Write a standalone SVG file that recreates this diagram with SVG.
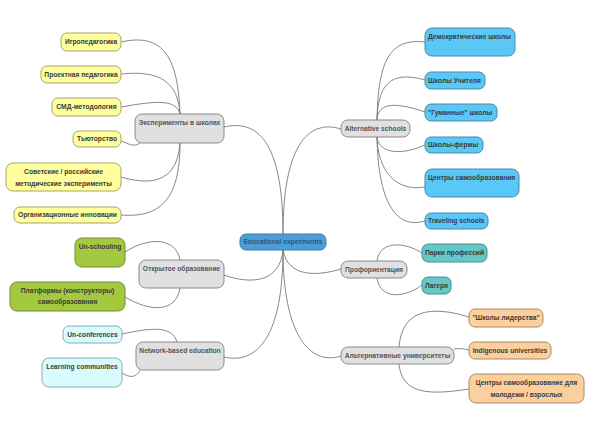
<svg xmlns="http://www.w3.org/2000/svg" width="590" height="443" viewBox="0 0 590 443">
<style>
text{font-family:"Liberation Sans",Arial,sans-serif;font-weight:bold;font-size:6.7px;fill:#3a3a3a}
.c path{fill:none;stroke:#7a7a7a;stroke-width:0.9}
rect{stroke-width:1}
.y rect{fill:#ffff9e;stroke:#a9a46a}
.b rect{fill:#5ac8f7;stroke:#4a88a8}
.g rect{fill:#a3c93f;stroke:#6f8e34}
.t rect{fill:#66c7c7;stroke:#4a8e8e}
.l rect{fill:#d9fbfd;stroke:#7fb0b6}
.o rect{fill:#fcd09e;stroke:#a88a64}
.m rect{fill:#e0e0e0;stroke:#8a8a8a}
.m text{fill:#555}
.ctr rect{fill:#4b9fd6;stroke:#3f7aa6}
.ctr text{fill:#2c587c}
</style>
<rect x="0" y="0" width="590" height="443" fill="#ffffff" stroke="none"/>
<g class="c" id="connectors">
<path d="M283,234 C283,150 262,118 224,127"/>
<path d="M283,234 C283,150 306,118 341,129"/>
<path d="M283,250 C280,282 252,285 224,275"/>
<path d="M283,250 C283,335 258,365 224,357"/>
<path d="M283,250 C288,278 318,276 341,269"/>
<path d="M283,250 C283,335 310,366 341,356"/>
<path d="M180,114 C178,60 165,32 121,42"/>
<path d="M180,114 C178,82 160,70 121,74"/>
<path d="M180,114 C176,100 160,100 121,107"/>
<path d="M140,143 C133,148 128,143 121,141"/>
<path d="M180,143 C178,170 165,190 121,177"/>
<path d="M180,143 C180,200 160,218 121,215"/>
<path d="M377,120 C378,60 390,38 425,42"/>
<path d="M377,120 C378,85 390,70 425,80"/>
<path d="M377,120 C378,105 390,100 425,112"/>
<path d="M377,137 C378,150 395,158 425,145"/>
<path d="M377,137 C378,170 395,192 425,187"/>
<path d="M377,137 C378,200 395,230 425,221"/>
<path d="M180,260 C176,238 150,236 125,252"/>
<path d="M180,288 C176,313 150,312 125,297"/>
<path d="M177,342 C172,325 150,328 122,334"/>
<path d="M140,370 C136,378 130,378 122,373"/>
<path d="M377,261 C380,240 405,242 422,253"/>
<path d="M377,278 C380,300 405,298 422,285"/>
<path d="M399,347 C402,310 430,305 469,317"/>
<path d="M454,349 C460,348 464,349 469,350"/>
<path d="M399,364 C402,395 430,395 469,389"/>
</g>
<g id="center" class="ctr"><rect x="240" y="234" width="86" height="16" rx="6"/><text x="283" y="244.3" text-anchor="middle">Educational experiments</text></g>
<g id="exp" class="m"><rect x="135" y="114" width="89" height="29" rx="7"/><text x="179.5" y="125.3" text-anchor="middle">Эксперименты в школах</text></g>
<g id="alt" class="m"><rect x="341" y="120" width="69" height="17" rx="7"/><text x="375.5" y="131.3" text-anchor="middle">Alternative schools</text></g>
<g id="open" class="m"><rect x="139" y="260" width="85" height="28" rx="7"/><text x="181.5" y="271.3" text-anchor="middle">Открытое образование</text></g>
<g id="net" class="m"><rect x="136" y="342" width="88" height="28" rx="7"/><text x="180" y="352.8" text-anchor="middle">Network-based education</text></g>
<g id="prof" class="m"><rect x="341" y="261" width="66" height="17" rx="7"/><text x="374" y="271.8" text-anchor="middle">Профориентация</text></g>
<g id="altuni" class="m"><rect x="341" y="347" width="113" height="17" rx="7"/><text x="397.5" y="358.3" text-anchor="middle">Альтернативные университеты</text></g>
<g id="n1" class="y"><rect x="61" y="33" width="60" height="18" rx="6"/><text x="91" y="44.3" text-anchor="middle">Игропедагогика</text></g>
<g id="n2" class="y"><rect x="41" y="66" width="80" height="17" rx="6"/><text x="81" y="76.8" text-anchor="middle">Проектная педагогика</text></g>
<g id="n3" class="y"><rect x="52" y="98" width="69" height="18" rx="6"/><text x="86.5" y="109.3" text-anchor="middle">СМД-методология</text></g>
<g id="n4" class="y"><rect x="73" y="131" width="48" height="16" rx="6"/><text x="97" y="141.3" text-anchor="middle">Тьюторство</text></g>
<g id="n5" class="y"><rect x="6" y="163" width="115" height="28" rx="7"/><text x="63.5" y="174" text-anchor="middle">Советские / российские</text><text x="63.5" y="185.5" text-anchor="middle">методические эксперименты</text></g>
<g id="n6" class="y"><rect x="14" y="207" width="107" height="16" rx="6"/><text x="67.5" y="217.3" text-anchor="middle">Организационные инновации</text></g>
<g id="b1" class="b"><rect x="425" y="28" width="90" height="28" rx="7"/><text x="428" y="39">Демократические школы</text></g>
<g id="b2" class="b"><rect x="425" y="72" width="60" height="17" rx="6"/><text x="428" y="82.8">Школы Учителя</text></g>
<g id="b3" class="b"><rect x="425" y="104" width="72" height="17" rx="6"/><text x="428" y="114.8">"Гуманные" школы</text></g>
<g id="b4" class="b"><rect x="425" y="137" width="58" height="16" rx="6"/><text x="428" y="147.3">Школы-фермы</text></g>
<g id="b5" class="b"><rect x="425" y="169" width="94" height="28" rx="7"/><text x="428" y="179.5">Центры самообразования</text></g>
<g id="b6" class="b"><rect x="425" y="213" width="63" height="16" rx="6"/><text x="428" y="223.3">Traveling schools</text></g>
<g id="g1" class="g"><rect x="75" y="238" width="50" height="29" rx="7"/><text x="100" y="249" text-anchor="middle">Un-schooling</text></g>
<g id="g2" class="g"><rect x="10" y="282" width="115" height="29" rx="7"/><text x="67.5" y="293" text-anchor="middle">Платформы (конструкторы)</text><text x="67.5" y="304" text-anchor="middle">самообразования</text></g>
<g id="l1" class="l"><rect x="63" y="326" width="59" height="17" rx="6"/><text x="92.5" y="336.8" text-anchor="middle">Un-conferences</text></g>
<g id="l2" class="l"><rect x="42" y="358" width="80" height="29" rx="7"/><text x="82" y="369" text-anchor="middle">Learning communities</text></g>
<g id="t1" class="t"><rect x="422" y="244" width="65" height="18" rx="6"/><text x="454.5" y="255.3" text-anchor="middle">Парки профессий</text></g>
<g id="t2" class="t"><rect x="422" y="277" width="29" height="17" rx="6"/><text x="436.5" y="287.8" text-anchor="middle">Лагеря</text></g>
<g id="o1" class="o"><rect x="469" y="309" width="74" height="18" rx="6"/><text x="506" y="320.3" text-anchor="middle">"Школы лидерства"</text></g>
<g id="o2" class="o"><rect x="469" y="342" width="82" height="17" rx="6"/><text x="510" y="352.8" text-anchor="middle">Indigenous universities</text></g>
<g id="o3" class="o"><rect x="469" y="374" width="115" height="29" rx="7"/><text x="526.5" y="385" text-anchor="middle">Центры самообразование для</text><text x="526.5" y="396.5" text-anchor="middle">молодежи / взрослых</text></g>
</svg>
